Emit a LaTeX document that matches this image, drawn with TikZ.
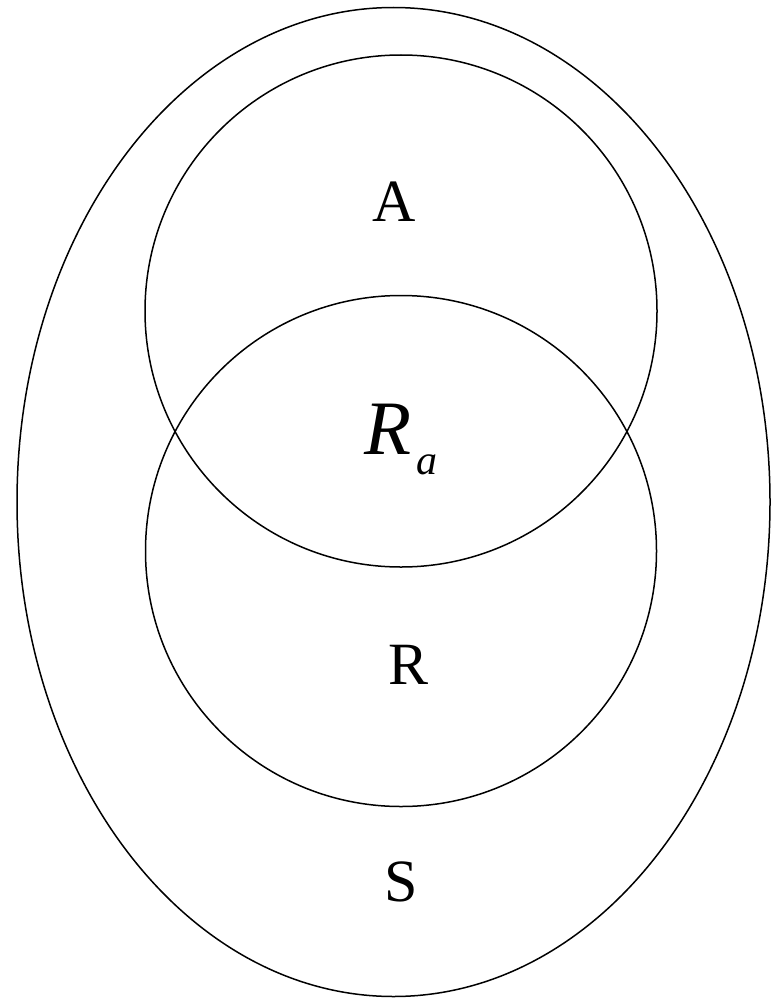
\documentclass[tikz,border=0pt]{standalone}
\usepackage{fontspec}
\setmainfont{Liberation Serif}
\begin{document}
\begin{tikzpicture}[x=1pt,y=-1pt,
  shapeline/.style={draw=black,line width=1.5pt},
  lbl/.style={anchor=base,inner sep=0pt,font=\fontsize{60}{60}\selectfont}]
\useasboundingbox (0,0) rectangle (778,998);
\draw[shapeline] (393.5,502) ellipse [x radius=376.5, y radius=494.5];
\node[shapeline,circle,minimum size=512pt,inner sep=0pt] (A) at (401,311) {};
\node[shapeline,circle,minimum size=511pt,inner sep=0pt] (R) at (401,551) {};
\node[lbl] (la) at (394,221) {A};
\node[lbl] (lr) at (409,684) {R};
\node[lbl] (ls) at (401,901) {S};
\node[anchor=base,inner sep=0pt,font=\fontsize{77}{77}\selectfont\itshape] (ra) at (388,454) {R};
\node[anchor=base,inner sep=0pt,font=\fontsize{42}{42}\selectfont\itshape] (sub) at (427,474) {a};
\end{tikzpicture}
\end{document}
